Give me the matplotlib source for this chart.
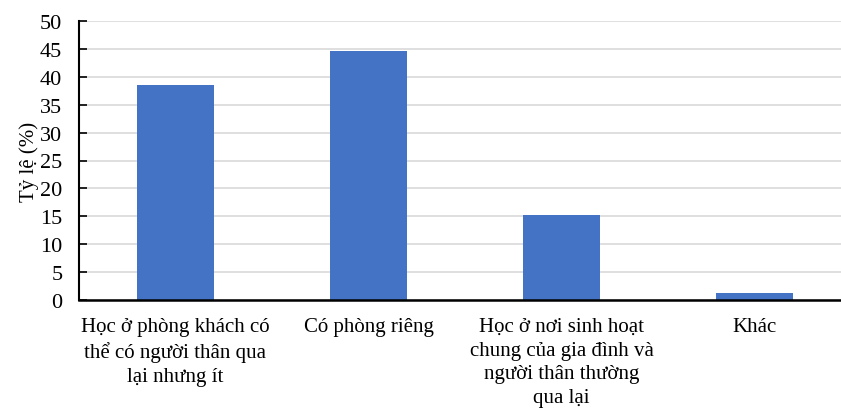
import numpy as np
import matplotlib.pyplot as plt

plt.rcParams['font.family'] = ['Liberation Serif', 'DejaVu Serif']

# du lieu
categories = ['Học ở phòng khách có\nthể có người thân qua\nlại nhưng ít',
              'Có phòng riêng',
              'Học ở nơi sinh hoạt\nchung của gia đình và\nngười thân thường\nqua lại',
              'Khác']
values = [38.6, 44.7, 15.3, 1.2]
yticks = [0, 5, 10, 15, 20, 25, 30, 35, 40, 45, 50]

fig = plt.figure(figsize=(8.41, 4.10), dpi=100)
ax = fig.add_axes([79/841, 109/410, 1 - 79/841, 279/410])

x = np.arange(len(categories))
ax.bar(x, values, width=0.4, color='#4472C4', zorder=3)

ax.set_xlim(-0.5, 3.5 - 10/193)
ax.set_ylim(0, 50)
ax.set_yticks(yticks)
ax.set_xticks(x)
ax.set_xticklabels(categories, fontsize=15, linespacing=1.35)
ax.tick_params(axis='x', length=0, pad=12)
ax.tick_params(axis='y', direction='in', length=6, width=1.2, labelsize=16, pad=12)
ax.grid(axis='y', color='#D9D9D9', linewidth=1.2, zorder=0)
ax.set_ylabel('Tỷ lệ (%)', fontsize=15, labelpad=1)

for s in ['top', 'right']:
    ax.spines[s].set_visible(False)
ax.spines['left'].set_linewidth(1.5)
ax.spines['bottom'].set_linewidth(1.8)
ax.spines['bottom'].set_zorder(4)

fig.savefig('out.png', dpi=100)
